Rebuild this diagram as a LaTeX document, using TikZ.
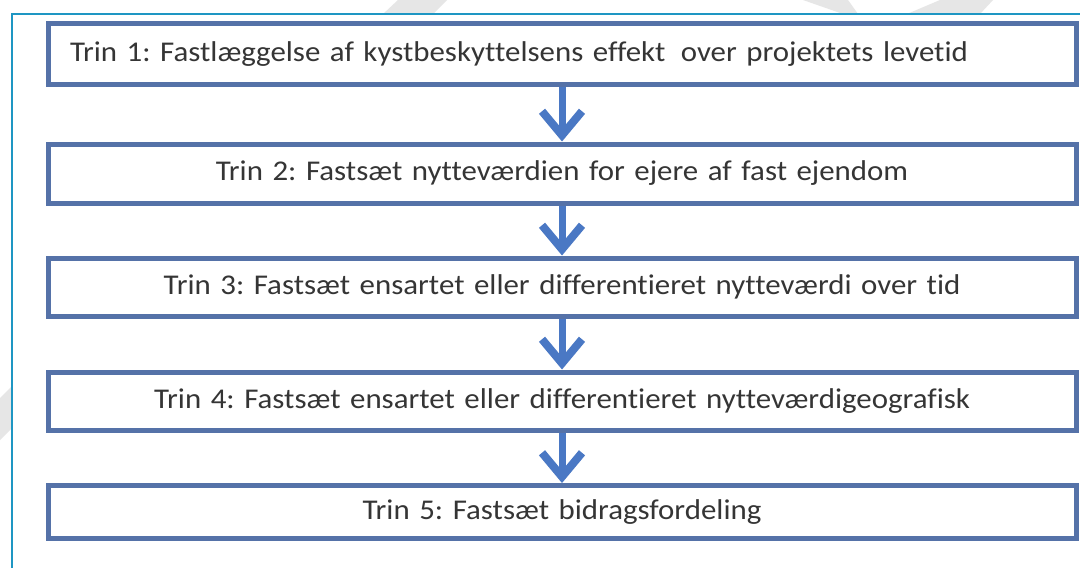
\documentclass[tikz,border=0pt]{standalone}
\usepackage{fontspec}
\setmainfont{Carlito}
\newfontfamily\stepfont{Carlito}[Ligatures={NoCommon}, FakeStretch=1.08]
\usetikzlibrary{arrows.meta}
\definecolor{boxblue}{HTML}{5572A8}
\definecolor{arrowblue}{HTML}{4A78C4}
\definecolor{frameteal}{HTML}{1E96C3}
\definecolor{txt}{HTML}{353535}
\definecolor{wmark}{HTML}{E6E6E6}
\newcommand{\steptext}{\stepfont\fontsize{28.6}{33}\selectfont\frenchspacing
  \fontdimen2\font=5pt\fontdimen3\font=1pt\fontdimen4\font=1pt\relax}
\begin{document}
\begin{tikzpicture}[x=1pt,y=-1pt,
  stepbox/.style={draw=boxblue, line width=5pt, fill=white, minimum width=1028pt,
    inner sep=0pt, text width=984pt, font=\steptext, text=txt},
  flow/.style={draw=arrowblue, line width=7pt,
    -{Straight Barb[length=24pt,width=40pt,line width=8pt]}}]
\useasboundingbox (0,0) rectangle (1080,568);
\fill[white] (0,0) rectangle (1080,568);
% faint watermark pieces outside the frame
\fill[wmark] (383,14) -- (398,0) -- (447,0) -- (433,14) -- cycle;
\fill[wmark] (0,398) -- (11,387) -- (11,429) -- (0,440) -- cycle;
\fill[wmark] (803,0) -- (848,0) -- (858,14) -- (843,14) -- cycle;
\fill[wmark] (940,0) -- (993,0) -- (980,14) -- (907,14) -- cycle;
\draw[frameteal, line width=2pt] (1082,14) -| (12,570);
\node[stepbox, minimum height=61pt, align=left] (s1) at (562,54)
  {Trin 1: Fastlæggelse af kystbeskyttelsens effekt\hspace{6pt} over projektets levetid};
\node[stepbox, minimum height=59pt, align=center] (s2) at (562,173.5)
  {Trin 2: Fastsæt nytteværdien for ejere af fast ejendom};
\node[stepbox, minimum height=58pt, align=center] (s3) at (562,287)
  {Trin 3: Fastsæt ensartet eller differentieret nytteværdi over tid};
\node[stepbox, minimum height=58pt, align=center] (s4) at (562,401)
  {Trin 4: Fastsæt ensartet eller differentieret nytteværdigeografisk};
\node[stepbox, minimum height=53pt, align=center] (s5) at (562,512)
  {Trin 5: Fastsæt bidragsfordeling};
\draw[flow] (s1.south) -- (s2.north);
\draw[flow] (s2.south) -- (s3.north);
\draw[flow] (s3.south) -- (s4.north);
\draw[flow] (s4.south) -- (s5.north);
\end{tikzpicture}
\end{document}
